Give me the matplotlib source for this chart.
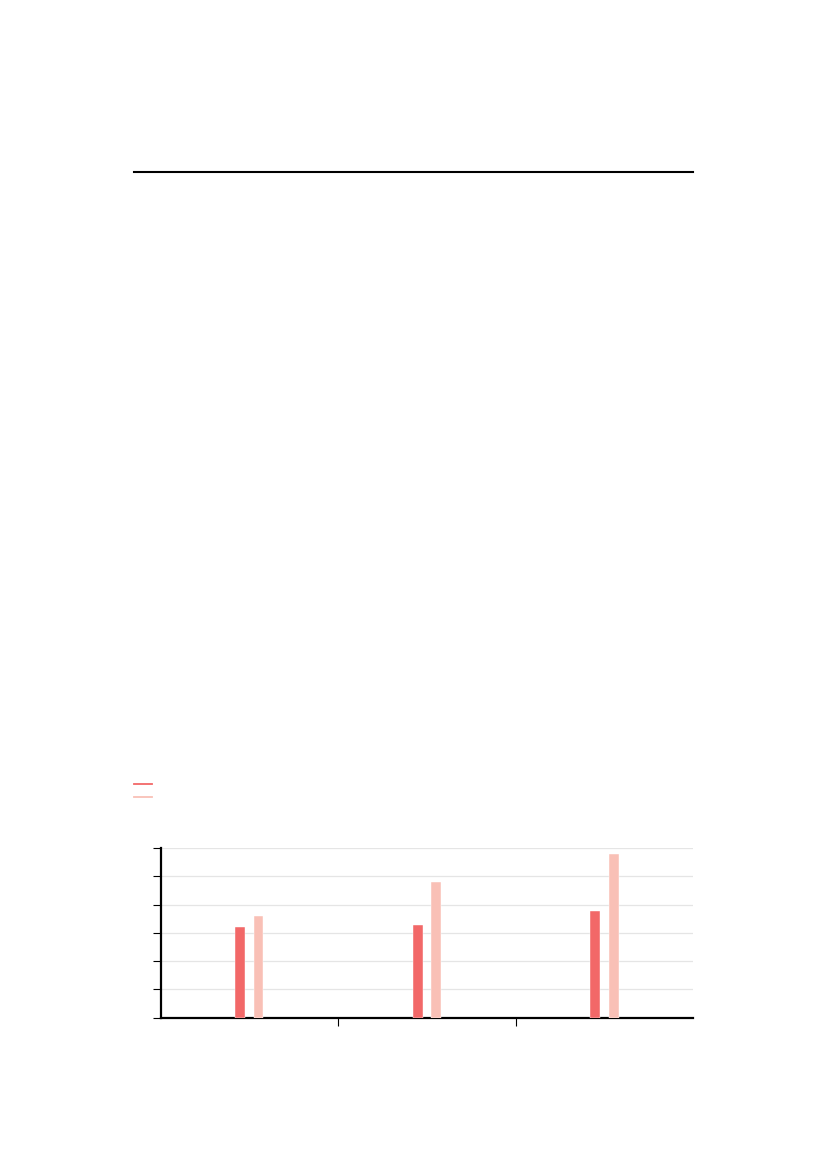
import matplotlib
matplotlib.use('Agg')
import matplotlib.pyplot as plt
from matplotlib.lines import Line2D
import numpy as np

# values (no labels are shown on the chart)
groups = [0, 1, 2]
series_a = [3.19, 3.28, 3.79]
series_b = [3.59, 4.80, 5.80]
color_a = '#f26868'
color_b = '#f9c0b6'

fig = plt.figure(figsize=(8.27, 11.69), dpi=100)

# rule across the top of the page
top = fig.add_axes([0.162, 0.70, 0.6756, 0.153])
top.set_xticks([])
top.set_yticks([])
for s in ['left', 'right', 'bottom']:
    top.spines[s].set_visible(False)
top.spines['top'].set_linewidth(1.5)
top.patch.set_alpha(0)

# legend with empty labels
handles = [Line2D([], [], color=color_a, lw=1.3),
           Line2D([], [], color=color_b, lw=1.3)]
fig.legend(handles, ['', ''], loc='upper left', bbox_to_anchor=(0.1618, 1 - 779 / 1169),
           frameon=False, fontsize=7, handlelength=1.85, handletextpad=0,
           borderpad=0, borderaxespad=0, labelspacing=0.35)

ax = fig.add_axes([0.1943, 0.1294, 0.644, 0.1452])
x = np.array(groups)
w = 0.056
ax.bar(x - 0.051, series_a, width=w, color=color_a, edgecolor='#ffffff', linewidth=0.3, zorder=3)
ax.bar(x + 0.051, series_b, width=w, color=color_b, edgecolor='#ffffff', linewidth=0.3, zorder=3)

ax.set_xlim(-0.5, 2.5)
ax.set_ylim(0, 6)
ax.set_yticks(range(0, 7))
ax.set_xticks([0.5, 1.5])
ax.set_yticklabels([])
ax.set_xticklabels([])
ax.grid(axis='y', color='#e5e5e5', linewidth=0.9, zorder=0)
ax.set_axisbelow(True)
ax.spines['top'].set_visible(False)
ax.spines['right'].set_visible(False)
ax.spines['left'].set_linewidth(1.6)
ax.spines['bottom'].set_linewidth(1.6)
ax.tick_params(axis='both', length=5.5, width=0.8, color='black')

fig.savefig('out.png', dpi=100)
